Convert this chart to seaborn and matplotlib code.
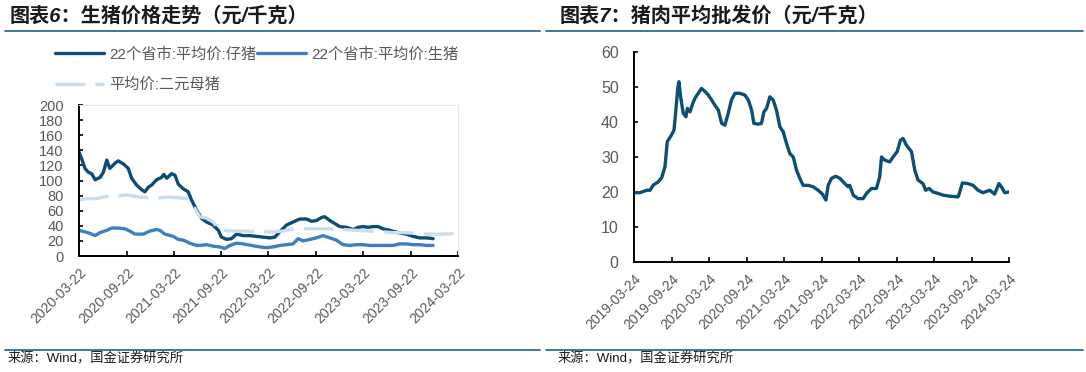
import matplotlib
matplotlib.use('Agg')
import matplotlib.pyplot as plt
from matplotlib.lines import Line2D
import seaborn as sns
import pandas as pd

# 图表6: 22个省市 仔猪 / 生猪, 二元母猪 (元/千克)
piglet_dates = ['2020-03-22', '2020-04-01', '2020-04-14', '2020-04-27', '2020-05-10', '2020-05-23',
                '2020-06-11', '2020-06-24', '2020-07-07', '2020-07-19', '2020-08-08', '2020-08-20',
                '2020-09-09', '2020-09-28', '2020-10-11', '2020-10-30', '2020-11-18', '2020-12-01',
                '2020-12-14', '2020-12-27', '2021-01-15', '2021-02-03', '2021-02-12', '2021-02-23',
                '2021-03-14', '2021-03-27', '2021-04-09', '2021-04-28', '2021-05-17', '2021-05-30',
                '2021-06-18', '2021-07-07', '2021-07-27', '2021-08-21', '2021-09-10', '2021-09-22',
                '2021-10-12', '2021-10-31', '2021-11-19', '2021-12-15', '2022-01-10', '2022-02-04',
                '2022-03-02', '2022-03-28', '2022-04-16', '2022-05-05', '2022-05-31', '2022-06-25',
                '2022-07-21', '2022-08-16', '2022-09-04', '2022-09-23', '2022-10-13', '2022-10-25',
                '2022-11-14', '2022-12-03', '2022-12-22', '2023-01-17', '2023-02-12', '2023-03-03',
                '2023-03-22', '2023-04-10', '2023-04-30', '2023-05-19', '2023-06-07', '2023-07-03',
                '2023-08-04', '2023-09-05', '2023-10-01', '2023-10-26', '2023-11-21', '2023-12-17']
piglet_price = [138, 129, 116, 111, 109, 101, 104, 111, 127, 116, 123, 126,
                122, 116, 103, 94, 88, 85, 91, 94, 101, 104, 108, 103,
                109, 107, 95, 89, 85, 74, 61, 50, 45, 41, 34, 25,
                22, 23, 29, 27, 27, 26, 25, 24, 25, 32, 41, 45,
                49, 49, 46, 47, 51, 52, 47, 43, 39, 38, 35, 38,
                39, 38, 39, 39, 36, 34, 31, 29, 26, 24, 24, 23]

hog_dates = ['2020-03-22', '2020-04-14', '2020-05-03', '2020-05-23', '2020-06-11', '2020-07-07',
             '2020-07-26', '2020-08-20', '2020-09-15', '2020-10-04', '2020-10-24', '2020-11-25',
             '2020-12-20', '2021-01-15', '2021-01-28', '2021-02-16', '2021-03-20', '2021-04-09',
             '2021-04-28', '2021-05-23', '2021-06-18', '2021-07-01', '2021-07-27', '2021-08-21',
             '2021-09-16', '2021-10-05', '2021-10-25', '2021-11-19', '2021-12-15', '2022-01-16',
             '2022-02-17', '2022-03-15', '2022-04-09', '2022-05-05', '2022-05-31', '2022-06-25',
             '2022-07-15', '2022-08-03', '2022-08-29', '2022-09-23', '2022-10-19', '2022-11-14',
             '2022-12-09', '2023-01-04', '2023-01-30', '2023-02-24', '2023-03-22', '2023-04-17',
             '2023-05-12', '2023-06-07', '2023-07-16', '2023-08-10', '2023-09-05', '2023-10-01',
             '2023-10-26', '2023-11-21', '2023-12-17']
hog_price = [34, 32, 30, 27, 31, 34, 37, 37, 36, 33, 29, 29,
             33, 35, 34, 29, 26, 22, 21, 17, 14, 14, 15, 13,
             12, 10, 14, 17, 16, 14, 12, 11, 12, 14, 15, 16,
             23, 20, 22, 24, 27, 24, 21, 15, 14, 15, 15, 14,
             14, 14, 14, 16, 16, 15, 15, 14, 14]

sow_dates = ['2020-03-22', '2020-04-21', '2020-05-29', '2020-07-07', '2020-08-08', '2020-09-22',
             '2020-11-12', '2020-12-20', '2021-01-28', '2021-03-07', '2021-04-15', '2021-05-11',
             '2021-06-05', '2021-07-01', '2021-07-27', '2021-08-21', '2021-09-10', '2021-09-29',
             '2021-11-06', '2021-12-28', '2022-02-17', '2022-04-09', '2022-05-18', '2022-06-13',
             '2022-08-03', '2022-09-23', '2022-11-14', '2023-01-04', '2023-02-24', '2023-04-17',
             '2023-06-07', '2023-07-16', '2023-08-23', '2023-10-13', '2023-12-04', '2024-01-24',
             '2024-03-22']
sow_price = [74, 76, 76, 79, 79, 81, 78, 77, 77, 78, 77, 76,
             67, 52, 50, 45, 36, 34, 33, 33, 32, 32, 33, 35,
             36, 36, 36, 35, 34, 33, 32, 31, 31, 30, 29, 29, 30]

left_ticks = ['2020-03-22', '2020-09-22', '2021-03-22', '2021-09-22', '2022-03-22',
              '2022-09-22', '2023-03-22', '2023-09-22', '2024-03-22']

# 图表7: 猪肉平均批发价 (元/千克)
pork_dates = ['2019-03-24', '2019-04-22', '2019-05-25', '2019-06-10', '2019-06-26', '2019-07-20',
              '2019-08-06', '2019-08-22', '2019-09-02', '2019-09-23', '2019-10-05', '2019-10-14',
              '2019-10-23', '2019-10-29', '2019-11-06', '2019-11-19', '2019-12-02', '2019-12-09',
              '2019-12-22', '2020-01-04', '2020-01-15', '2020-01-31', '2020-02-16', '2020-03-04',
              '2020-03-20', '2020-04-05', '2020-04-21', '2020-05-08', '2020-05-24', '2020-06-09',
              '2020-06-25', '2020-07-11', '2020-07-28', '2020-08-21', '2020-09-14', '2020-10-01',
              '2020-10-17', '2020-10-28', '2020-11-18', '2020-12-04', '2020-12-16', '2020-12-29',
              '2021-01-14', '2021-01-30', '2021-02-15', '2021-03-04', '2021-03-20', '2021-04-05',
              '2021-04-21', '2021-05-08', '2021-05-24', '2021-06-09', '2021-06-25', '2021-07-20',
              '2021-08-13', '2021-09-06', '2021-09-27', '2021-10-14', '2021-10-25', '2021-11-10',
              '2021-12-01', '2021-12-21', '2022-01-14', '2022-01-30', '2022-02-07', '2022-02-24',
              '2022-03-20', '2022-04-13', '2022-04-30', '2022-05-24', '2022-06-17', '2022-07-03',
              '2022-07-12', '2022-07-28', '2022-08-21', '2022-09-06', '2022-09-26', '2022-10-12',
              '2022-10-25', '2022-11-10', '2022-12-05', '2022-12-21', '2023-01-06', '2023-01-30',
              '2023-02-12', '2023-03-01', '2023-03-20', '2023-04-13', '2023-05-08', '2023-06-09',
              '2023-07-20', '2023-07-28', '2023-08-10', '2023-09-06', '2023-10-01', '2023-10-25',
              '2023-11-18', '2023-12-21', '2024-01-14', '2024-02-04', '2024-02-16', '2024-03-03',
              '2024-03-24']
pork_price = [19.8, 19.8, 20.5, 20.5, 22.0, 22.9, 24.1, 27.2, 34.4, 36.3, 37.7, 43.4,
              49.6, 51.5, 47.2, 42.5, 41.5, 43.9, 42.9, 45.3, 46.8, 48.2, 49.6, 48.7,
              47.7, 46.3, 44.8, 43.4, 39.6, 39.1, 42.5, 46.3, 48.2, 48.2, 47.7, 46.3,
              43.4, 39.6, 39.4, 39.6, 42.9, 43.9, 47.2, 46.3, 43.4, 38.6, 37.2, 33.9,
              31.0, 30.0, 26.2, 23.9, 21.9, 21.9, 21.5, 20.5, 19.4, 17.7, 21.9, 23.9,
              24.5, 23.9, 22.4, 21.5, 21.9, 19.1, 18.1, 18.1, 19.6, 21.0, 21.0, 24.3,
              30.0, 29.1, 28.6, 30.0, 31.5, 34.8, 35.3, 33.4, 31.5, 26.2, 23.4, 22.4,
              20.5, 21.0, 20.0, 19.6, 19.1, 18.8, 18.6, 20.0, 22.6, 22.4, 21.9, 20.5,
              19.8, 20.5, 19.4, 22.4, 21.5, 19.8, 20.0]
right_ticks = ['2019-03-24', '2019-09-24', '2020-03-24', '2020-09-24', '2021-03-24', '2021-09-24',
               '2022-03-24', '2022-09-24', '2023-03-24', '2023-09-24', '2024-03-24']

sns.set_theme(style='white')
plt.rcParams['font.family'] = ['Liberation Sans', 'Noto Sans CJK SC', 'DejaVu Sans']
plt.rcParams['axes.unicode_minus'] = False

W, H = 1086, 372
gray = '#595959'
fig = plt.figure(figsize=(W / 100, H / 100), dpi=100)

ax1 = fig.add_axes([79 / W, 1 - 256 / H, 379 / W, 151 / H])
ax2 = fig.add_axes([634 / W, 1 - 262 / H, 375 / W, 210 / H])

piglet = pd.DataFrame({'date': pd.to_datetime(piglet_dates), 'price': piglet_price})
hog = pd.DataFrame({'date': pd.to_datetime(hog_dates), 'price': hog_price})
sow = pd.DataFrame({'date': pd.to_datetime(sow_dates), 'price': sow_price})
pork = pd.DataFrame({'date': pd.to_datetime(pork_dates), 'price': pork_price})

sns.lineplot(data=piglet, x='date', y='price', ax=ax1, color='#0b4d72', lw=2.4,
             label='22个省市:平均价:仔猪')
sns.lineplot(data=hog, x='date', y='price', ax=ax1, color='#3f7fc0', lw=2.4,
             label='22个省市:平均价:生猪')
sns.lineplot(data=sow, x='date', y='price', ax=ax1, color='#c9deef', lw=2.4,
             linestyle=(0, (9, 3)), label='平均价:二元母猪')
sns.lineplot(data=pork, x='date', y='price', ax=ax2, color='#0b4f75', lw=2.4, legend=False)

# legend above the left chart, two entries in row one
h, l = ax1.get_legend_handles_labels()
order = [0, 2, 1]
ax1.legend([h[i] for i in order], [l[i] for i in order], ncol=2, frameon=False,
           loc='upper left', bbox_to_anchor=(55 / W, 1 - 47 / H), bbox_transform=fig.transFigure,
           borderpad=0, borderaxespad=0, handlelength=3.2, handletextpad=0.35,
           columnspacing=0.05, labelspacing=1.05, fontsize=11, labelcolor=gray)

ax1.set_xlim(pd.Timestamp(left_ticks[0]), pd.Timestamp(left_ticks[-1]))
ax1.set_ylim(0, 200)
ax1.set_yticks(range(0, 201, 20))
ax1.set_xticks(pd.to_datetime(left_ticks))
ax1.set_xticklabels(left_ticks)

ax2.set_xlim(pd.Timestamp(right_ticks[0]), pd.Timestamp(right_ticks[-1]))
ax2.set_ylim(0, 60)
ax2.set_yticks(range(0, 61, 10))
ax2.set_xticks(pd.to_datetime(right_ticks))
ax2.set_xticklabels(right_ticks)

for ax, ysize in [(ax1, 10.5), (ax2, 11.5)]:
    ax.set_xlabel('')
    ax.set_ylabel('')
    ax.grid(False)
    for s in ('left', 'bottom'):
        ax.spines[s].set_color('black')
        ax.spines[s].set_linewidth(1.4)
    ax.tick_params(axis='x', direction='in', length=3.5, width=1.2, color='black',
                   labelsize=10, labelcolor=gray, pad=7, bottom=True)
    ax.tick_params(axis='y', direction='in', length=3, width=1.2, color='black',
                   labelsize=ysize, labelcolor=gray, pad=11, left=True)
    for t in ax.get_xticklabels():
        t.set_rotation(45)
        t.set_ha('right')
        t.set_va('top')
        t.set_rotation_mode('anchor')

for s in ('top', 'right'):
    ax1.spines[s].set_color('#e6e6e6')
    ax1.spines[s].set_linewidth(0.8)
    ax2.spines[s].set_visible(False)

# header and footer rules
rule = '#2e6b96'
for x0, x1 in [(5, 540), (546, 1083)]:
    for y in (31, 350):
        fig.add_artist(Line2D([x0 / W, x1 / W], [1 - y / H, 1 - y / H], color=rule, lw=1.3))

title_kw = dict(fontsize=14.5, fontweight='bold', fontstyle='italic', va='center', ha='left',
                color='#1a1a1a')
fig.text(10 / W, 1 - 16 / H, '图表6：生猪价格走势（元/千克）', **title_kw)
fig.text(560 / W, 1 - 16 / H, '图表7：猪肉平均批发价（元/千克）', **title_kw)

src_kw = dict(fontsize=9.5, va='center', ha='left', color='#1a1a1a')
fig.text(8 / W, 1 - 359 / H, '来源：Wind，国金证券研究所', **src_kw)
fig.text(558 / W, 1 - 359 / H, '来源：Wind，国金证券研究所', **src_kw)

fig.savefig('out.png', dpi=100)
